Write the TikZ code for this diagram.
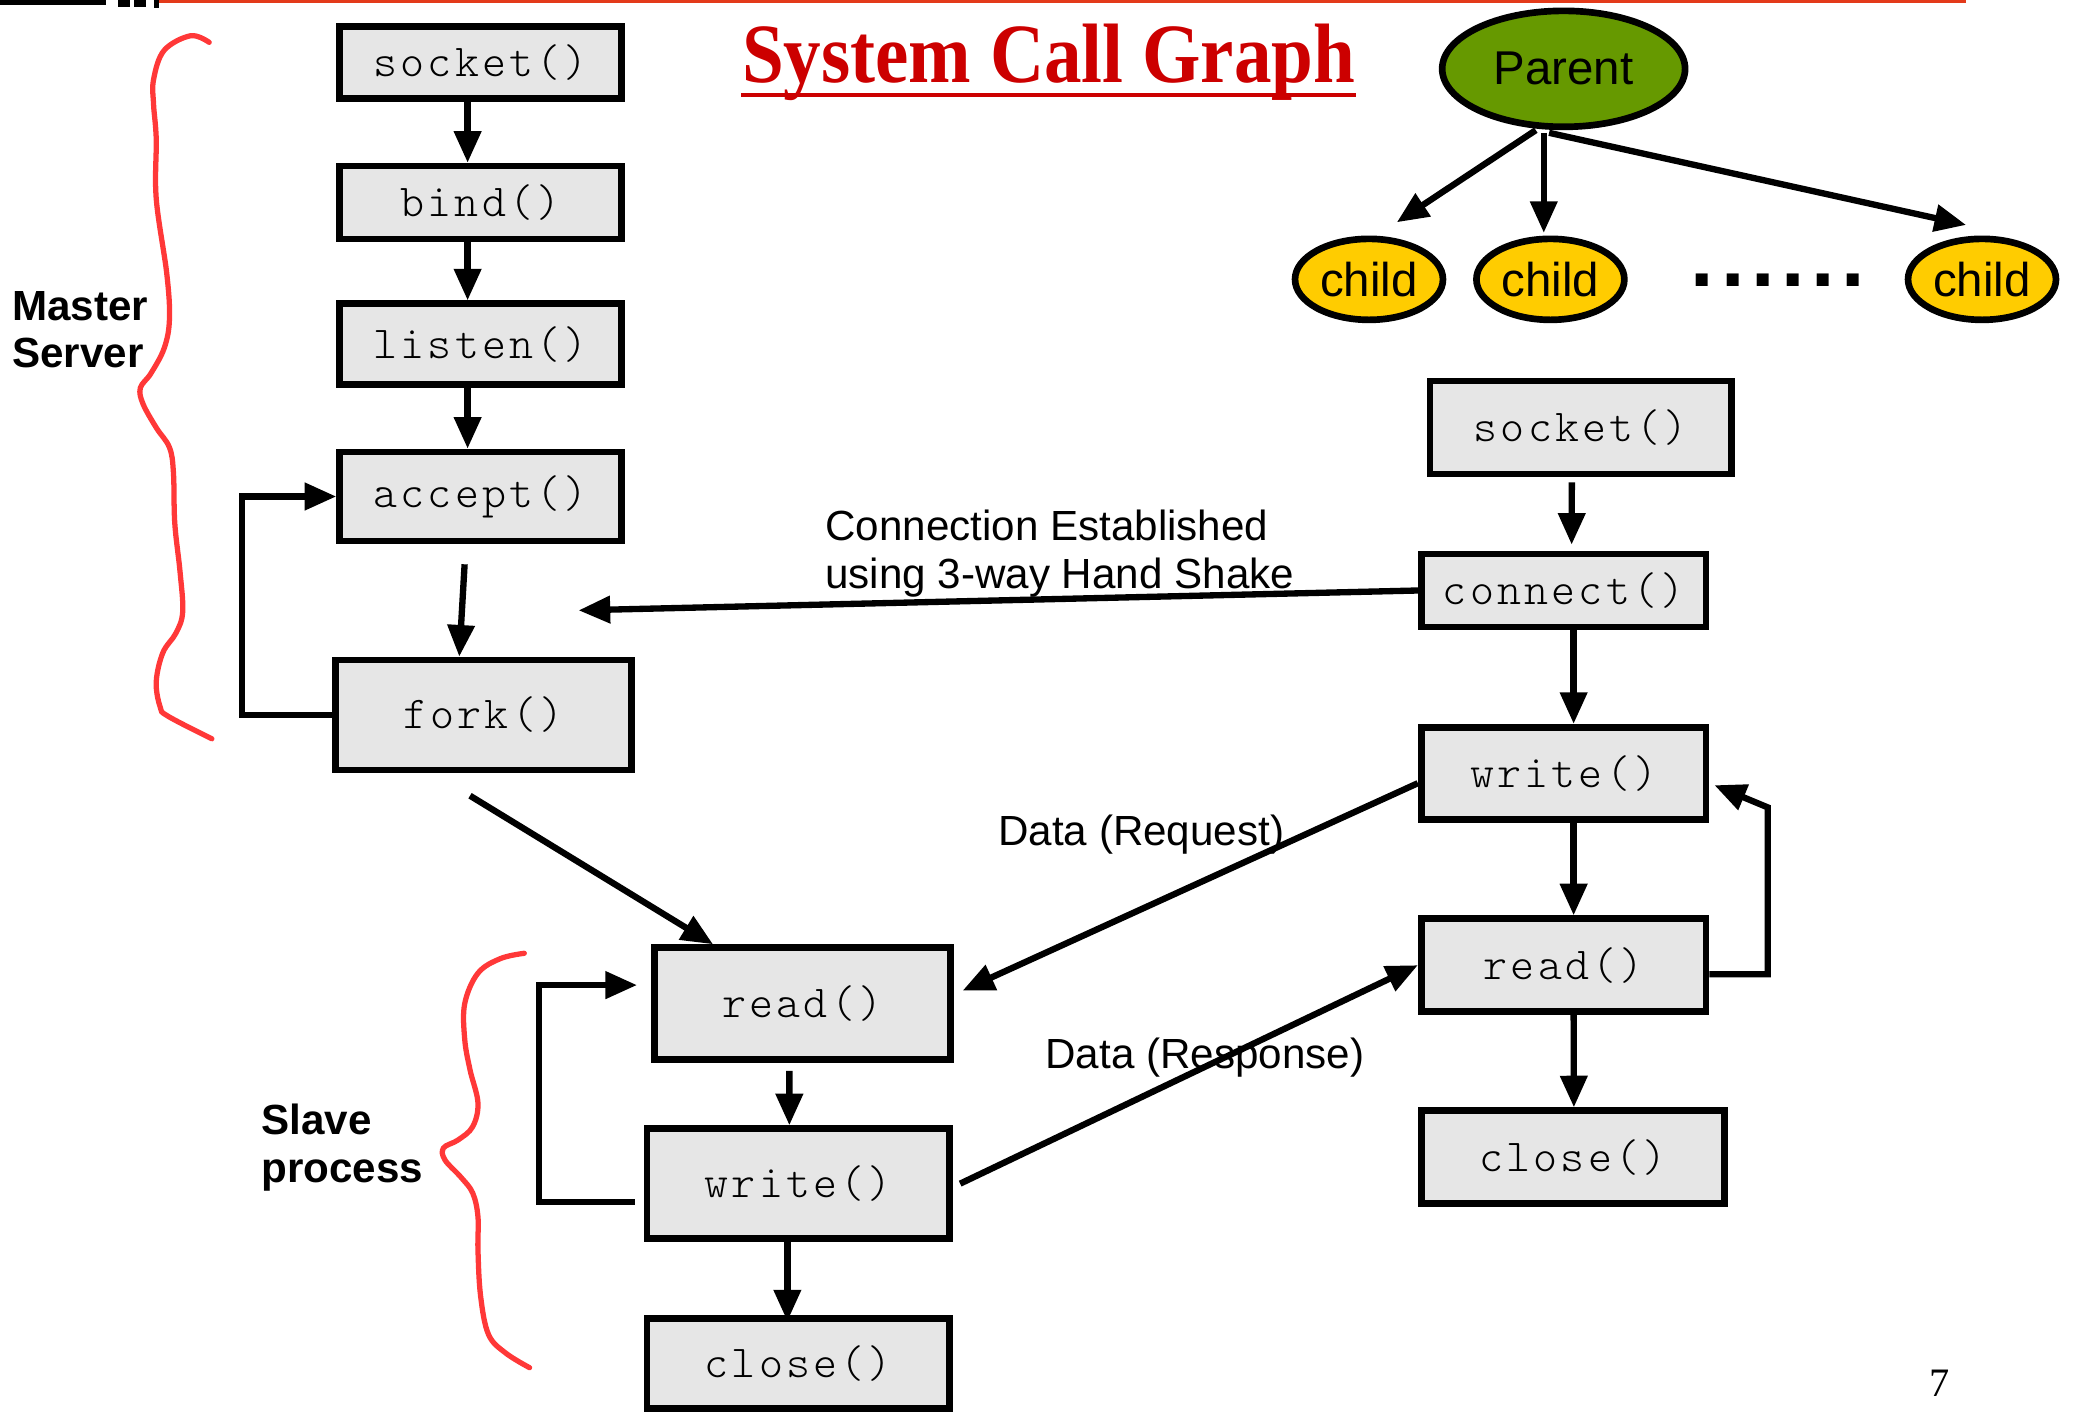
\documentclass[tikz,border=0pt]{standalone}
\usepackage{fontspec}
\setmainfont{Liberation Serif}
\setsansfont{Liberation Sans}
\newfontfamily\callfont{lmmonolt10-regular.otf}[LetterSpace=7]
\usepackage{tikz}
\usetikzlibrary{arrows.meta}
\usetikzlibrary{shapes.geometric}

\definecolor{boxgray}{HTML}{E6E6E6}
\definecolor{parentgreen}{HTML}{669900}
\definecolor{childyellow}{HTML}{FFCC00}
\definecolor{bracered}{HTML}{FF3838}
\definecolor{titlered}{HTML}{CC0000}
\definecolor{rulered}{HTML}{E33A1A}

\tikzset{
  callbox/.style={draw, line width=1.9pt, fill=boxgray, inner sep=0pt,
    font={\fontsize{13}{15}\selectfont\callfont}},
  flow/.style={-{Triangle[length=9pt,width=7.5pt]}, line width=1.8pt},
  procnode/.style={ellipse, draw, line width=1.9pt, inner sep=0pt,
    font={\fontsize{13.5}{15}\selectfont\sffamily}},
  brace/.style={bracered, line width=1.5pt, line cap=round},
  note/.style={font={\fontsize{12}{13.6}\selectfont\sffamily}},
  boldnote/.style={font={\fontsize{12}{13.6}\selectfont\sffamily\bfseries}, anchor=west, align=left}
}

\begin{document}
\begin{tikzpicture}[x=0.01324cm, y=-0.01324cm]
\useasboundingbox (0,0) rectangle (1568,1068);
% header rule
\draw[rulered, line width=1.2pt] (120,1) -- (1485,1);
\fill (0,0) rectangle (80,4);
\fill (89,0) rectangle (98,5);
\fill (101,0) rectangle (110,5);
\fill (116,0) rectangle (120,6);
\node[font={\fontsize{24}{26}\selectfont\bfseries}, text=titlered, inner sep=0pt, anchor=base] (title) at (792,62) {\scalebox{0.89}[1]{System Call Graph}};
\draw[titlered, line width=1.2pt] ([yshift=-1.3mm]title.base west) -- ([yshift=-1.3mm]title.base east);

% master server
\node[callbox, minimum width=2.82cm, minimum height=0.72cm] (s1) at (363,47) {socket()};
\node[callbox, minimum width=2.82cm, minimum height=0.73cm] (b1) at (363,153) {bind()};
\node[callbox, minimum width=2.82cm, minimum height=0.81cm] (l1) at (363,260) {listen()};
\node[callbox, minimum width=2.82cm, minimum height=0.89cm] (a1) at (363,375) {accept()};
\node[callbox, minimum width=2.96cm, minimum height=1.10cm] (f1) at (365,540) {fork()};
\draw[flow] ([xshift=-1.3mm]s1.south) -- ([xshift=-1.3mm]b1.north);
\draw[flow] ([xshift=-1.3mm]b1.south) -- ([xshift=-1.3mm]l1.north);
\draw[flow] ([xshift=-1.3mm]l1.south) -- ([xshift=-1.3mm]a1.north);
\draw[flow] ([xshift=-1.6mm,yshift=-2mm]a1.south) -- ([xshift=-2.4mm]f1.north);
\draw[flow] (f1.west) -- ++(-68,0) |- (a1.west);
\draw[brace] plot[smooth, tension=0.6] coordinates {(158,32) (144,27) (124,38) (116,60) (116,79) (118,105) (118,150) (126,207) (128,241) (124,263) (114,282) (106,293) (108,305) (118,323) (128,338) (131,357) (132,395) (136,432) (138,462) (133,478) (123,493) (118,515) (121,534) (127,541) (160,558)};
\node[boldnote] (master) at (0,249) {Master\\Server};

% slave process
\node[callbox, minimum width=2.96cm, minimum height=1.12cm] (r1) at (606,758) {read()};
\node[callbox, minimum width=3.03cm, minimum height=1.10cm] (w1) at (603,894) {write()};
\node[callbox, minimum width=3.03cm, minimum height=0.90cm] (c1) at (603,1030) {close()};
\coordinate (fk) at (355,601);
\draw[flow] (fk) -- ([xshift=6.2mm]r1.north west);
\draw[flow] ([xshift=-1.3mm,yshift=-0.8mm]r1.south) -- ([xshift=-0.9mm]w1.north);
\draw[flow] ([xshift=-1.1mm,yshift=0.6mm]w1.south) -- ([xshift=-1.1mm,yshift=-0.6mm]c1.north);
\draw[flow] ([xshift=-0.9mm,yshift=-1.85mm]w1.west) -- ++(-72,0) |- ([xshift=-1.4mm,yshift=1.85mm]r1.west);
\draw[brace] plot[smooth, tension=0.6] coordinates {(396,720) (378,724) (361,735) (351,758) (351,785) (355,808) (361,833) (357,851) (346,861) (335,867) (336,876) (348,889) (357,901) (361,919) (361,944) (363,979) (369,1008) (382,1022) (400,1033)};
\node[boldnote] (slave) at (188,867) {Slave\\process};

% client
\node[callbox, minimum width=3.02cm, minimum height=0.93cm] (s2) at (1194,323) {socket()};
\node[callbox, minimum width=2.85cm, minimum height=0.73cm] (cn) at (1181,446) {connect()};
\node[callbox, minimum width=2.85cm, minimum height=0.92cm] (w2) at (1181,584) {write()};
\node[callbox, minimum width=2.85cm, minimum height=0.93cm] (r2) at (1181,729) {read()};
\node[callbox, minimum width=3.03cm, minimum height=0.93cm] (c2) at (1188,874) {close()};
\draw[flow] ([xshift=-0.9mm,yshift=-0.5mm]s2.south) -- ([xshift=0.8mm,yshift=0.6mm]cn.north);
\draw[flow] ([xshift=1mm]cn.south) -- ([xshift=1mm]w2.north);
\draw[flow] ([xshift=1mm]w2.south) -- ([xshift=1mm]r2.north);
\draw[flow] ([xshift=1mm]r2.south) -- ([xshift=0.1mm]c2.north);
\draw[flow] ([yshift=-0.9mm]r2.east) -- ++(44,0) -- ++(0,-126) -- ([xshift=0.5mm,yshift=-1.2mm]w2.east);

% messages
\coordinate (hs) at (437,461);
\draw[flow] (cn.west) -- (hs);
\node[note, anchor=west, align=left] (hstext) at (614,418) {Connection Established\\using 3-way Hand Shake};
\draw[flow] ([yshift=-1mm]w2.west) -- ([xshift=0.9mm,yshift=1.3mm]r1.east);
\node[note] (req) at (862,630) {Data (Request)};
\draw[flow] ([xshift=0.7mm]w1.east) -- (r2.west);
\node[note] (resp) at (910,799) {Data (Response)};

% process tree
\node[procnode, fill=parentgreen, minimum width=2.43cm, minimum height=1.16cm] (pa) at (1181,52) {Parent};
\node[procnode, fill=childyellow, minimum width=1.48cm, minimum height=0.81cm] (ch1) at (1034,211) {child};
\node[procnode, fill=childyellow, minimum width=1.48cm, minimum height=0.81cm] (ch2) at (1171,211) {child};
\node[procnode, fill=childyellow, minimum width=1.48cm, minimum height=0.81cm] (ch3) at (1497,211) {child};
\node[font={\fontsize{24}{26}\selectfont\sffamily\bfseries\addfontfeatures{LetterSpace=8}}] (dots) at (1343,212) {......};
\draw[flow] ([shift={(-21,0)}]pa.south) -- ([shift={(21,-10)}]ch1.north);
\draw[flow] ([shift={(-15,2)}]pa.south) -- ([shift={(-5,-2)}]ch2.north);
\draw[flow] ([shift={(-11,2)}]pa.south) -- ([shift={(-12,-8)}]ch3.north);

\node[font={\fontsize{11.5}{13}\selectfont}] (pagenum) at (1465,1045) {7};
\end{tikzpicture}
\end{document}
